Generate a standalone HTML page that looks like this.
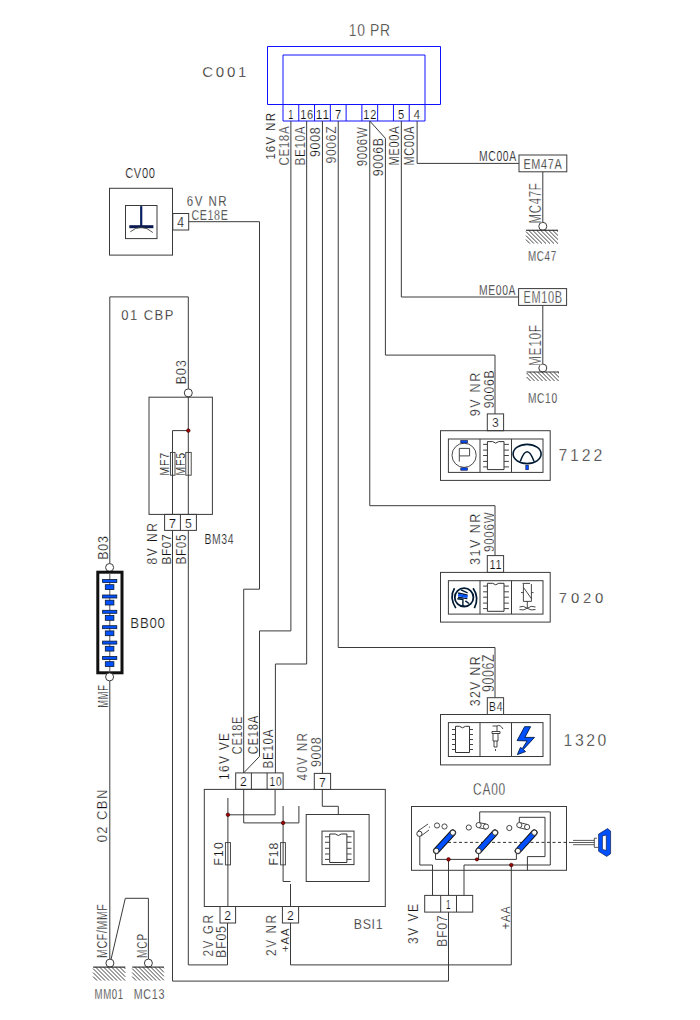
<!DOCTYPE html>
<html><head><meta charset="utf-8"><style>
html,body{margin:0;padding:0;background:#fff;width:700px;height:1020px;overflow:hidden}
svg{display:block}
text{font-family:"Liberation Sans",sans-serif;stroke:#fff}
</style></head><body>
<svg width="700" height="1020" viewBox="0 0 700 1020">
<rect width="700" height="1020" fill="#fff"/>
<path d="M267.5,46.5 L440.5,46.5 L440.5,104.5 L267.5,104.5 L267.5,46.5" stroke="#1010ff" stroke-width="1" fill="none" />
<path d="M283,121 L283,55 L425,55 L425,121" stroke="#1010ff" stroke-width="1" fill="none" />
<path d="M283,121 L425,121" stroke="#1010ff" stroke-width="1" fill="none" />
<path d="M298.77777777777777,104.5 L298.77777777777777,121" stroke="#1010ff" stroke-width="1" fill="none" />
<path d="M314.55555555555554,104.5 L314.55555555555554,121" stroke="#1010ff" stroke-width="1" fill="none" />
<path d="M330.3333333333333,104.5 L330.3333333333333,121" stroke="#1010ff" stroke-width="1" fill="none" />
<path d="M346.1111111111111,104.5 L346.1111111111111,121" stroke="#1010ff" stroke-width="1" fill="none" />
<path d="M361.8888888888889,104.5 L361.8888888888889,121" stroke="#1010ff" stroke-width="1" fill="none" />
<path d="M377.6666666666667,104.5 L377.6666666666667,121" stroke="#1010ff" stroke-width="1" fill="none" />
<path d="M393.44444444444446,104.5 L393.44444444444446,121" stroke="#1010ff" stroke-width="1" fill="none" />
<path d="M409.22222222222223,104.5 L409.22222222222223,121" stroke="#1010ff" stroke-width="1" fill="none" />
<text id="t0" transform="translate(288.6388888888889,118.6) scale(0.695,1)" x="-0.66" y="0" font-size="13.19" textLength="7.79" lengthAdjust="spacing" fill="#111" stroke-width="0.15">1</text>
<text id="t1" transform="translate(300.6666666666667,118.6) scale(0.836,1)" x="-0.66" y="0" font-size="13.19" textLength="15.68" lengthAdjust="spacing" fill="#111" stroke-width="0.15">16</text>
<text id="t2" transform="translate(316.44444444444446,118.6) scale(0.902,1)" x="-0.66" y="0" font-size="13.19" textLength="14.63" lengthAdjust="spacing" fill="#111" stroke-width="0.15">11</text>
<text id="t3" transform="translate(335.47222222222223,118.6) scale(0.850,1)" x="-0.66" y="0" font-size="13.19" textLength="7.79" lengthAdjust="spacing" fill="#111" stroke-width="0.15">7</text>
<text id="t4" transform="translate(363.77777777777777,118.6) scale(0.836,1)" x="-0.66" y="0" font-size="13.19" textLength="15.68" lengthAdjust="spacing" fill="#111" stroke-width="0.15">12</text>
<text id="t5" transform="translate(398.58333333333337,118.6) scale(0.850,1)" x="-0.66" y="0" font-size="13.19" textLength="7.79" lengthAdjust="spacing" fill="#111" stroke-width="0.15">5</text>
<text id="t6" transform="translate(414.3611111111111,118.6) scale(0.850,1)" x="-0.66" y="0" font-size="13.19" textLength="7.79" lengthAdjust="spacing" fill="#111" stroke-width="0.15">4</text>
<text id="t7" transform="translate(349.4,36.1) scale(0.859,1)" x="-0.81" y="0" font-size="16.17" textLength="48.20" lengthAdjust="spacing" fill="#111" stroke-width="0.42">10 PR</text>
<text id="t8" transform="translate(203,77) scale(1.000,1)" x="-0.75" y="0" font-size="15.04" textLength="44.20" lengthAdjust="spacing" fill="#111" stroke-width="0.32">C001</text>
<text id="t9" transform="translate(275,159.3) rotate(-90) scale(0.876,1)" x="-0.66" y="0" font-size="13.19" textLength="53.51" lengthAdjust="spacing" fill="#111" stroke-width="0.15">16V  NR</text>
<text id="t10" transform="translate(289.3,165) rotate(-90) scale(0.759,1)" x="-0.76" y="0" font-size="15.18" textLength="51.60" lengthAdjust="spacing" fill="#111" stroke-width="0.33">CE18A</text>
<text id="t11" transform="translate(305,165) rotate(-90) scale(0.773,1)" x="-0.76" y="0" font-size="15.18" textLength="50.70" lengthAdjust="spacing" fill="#111" stroke-width="0.33">BE10A</text>
<text id="t12" transform="translate(320,156.4) rotate(-90) scale(0.879,1)" x="-0.71" y="0" font-size="14.18" textLength="33.82" lengthAdjust="spacing" fill="#111" stroke-width="0.24">9008</text>
<text id="t13" transform="translate(336.4,162.9) rotate(-90) scale(0.804,1)" x="-0.76" y="0" font-size="15.18" textLength="46.16" lengthAdjust="spacing" fill="#111" stroke-width="0.33">9006Z</text>
<text id="t14" transform="translate(367,165.7) rotate(-90) scale(0.808,1)" x="-0.71" y="0" font-size="14.18" textLength="48.22" lengthAdjust="spacing" fill="#111" stroke-width="0.24">9006W</text>
<text id="t15" transform="translate(383,175.7) rotate(-90) scale(0.871,1)" x="-0.71" y="0" font-size="14.18" textLength="44.00" lengthAdjust="spacing" fill="#111" stroke-width="0.24">9006B</text>
<text id="t16" transform="translate(398.6,165) rotate(-90) scale(0.784,1)" x="-0.71" y="0" font-size="14.18" textLength="49.91" lengthAdjust="spacing" fill="#111" stroke-width="0.24">ME00A</text>
<text id="t17" transform="translate(414.3,165) rotate(-90) scale(0.770,1)" x="-0.71" y="0" font-size="14.18" textLength="50.75" lengthAdjust="spacing" fill="#111" stroke-width="0.24">MC00A</text>
<path d="M188.7,221.7 L259.5,221.7 L259.5,589.2 L243.7,589.2 L243.7,772.9" stroke="#3a3a3a" stroke-width="1" fill="none" />
<path d="M290.8888888888889,121 L290.8888888888889,630.9 L259.5,630.9 L259.5,756.4 L243.7,772.9" stroke="#3a3a3a" stroke-width="1" fill="none" />
<path d="M306.6666666666667,121 L306.6666666666667,664 L275.4,664 L275.4,772.9" stroke="#3a3a3a" stroke-width="1" fill="none" />
<path d="M322.44444444444446,121 L322.44444444444446,773.4" stroke="#3a3a3a" stroke-width="1" fill="none" />
<path d="M338.22222222222223,121 L338.22222222222223,647.5 L495,647.5 L495,697.7" stroke="#3a3a3a" stroke-width="1" fill="none" />
<path d="M369.77777777777777,121 L369.77777777777777,505.7 L495,505.7 L495,555.6" stroke="#3a3a3a" stroke-width="1" fill="none" />
<path d="M369.77777777777777,121 L385.4,138.3 L385.4,355.1 L495,355.1 L495,413.9" stroke="#3a3a3a" stroke-width="1" fill="none" />
<path d="M401.33333333333337,121 L401.33333333333337,297 L518.6,297" stroke="#3a3a3a" stroke-width="1" fill="none" />
<path d="M417.1111111111111,121 L417.1111111111111,163.4 L519,163.4" stroke="#3a3a3a" stroke-width="1" fill="none" />
<rect x="519" y="155" width="47.8" height="16.8" stroke="#3a3a3a" stroke-width="1" fill="none"/>
<text id="t18" transform="translate(524,169) scale(0.752,1)" x="-0.72" y="0" font-size="14.47" textLength="50.91" lengthAdjust="spacing" fill="#111" stroke-width="0.27">EM47A</text>
<text id="t19" transform="translate(479.5,161.2) scale(0.749,1)" x="-0.70" y="0" font-size="13.90" textLength="49.74" lengthAdjust="spacing" fill="#111" stroke-width="0.21">MC00A</text>
<path d="M542.8,171.8 L542.8,222.2" stroke="#3a3a3a" stroke-width="1" fill="none" />
<circle cx="542.8" cy="226.3" r="4" stroke="#3a3a3a" stroke-width="1" fill="#fff"/>
<path d="M526,230.3 L558,230.3" stroke="#3a3a3a" stroke-width="1.2" fill="none" />
<path d="M526.0,239.6 L530.0,243.6 M526.0,235.6 L534.0,243.6 M526.0,231.6 L538.0,243.6 M528.7,230.3 L542.0,243.6 M532.7,230.3 L546.0,243.6 M536.7,230.3 L550.0,243.6 M540.7,230.3 L554.0,243.6 M544.7,230.3 L558.0,243.6 M548.7,230.3 L558.0,239.6 M552.7,230.3 L558.0,235.6 M556.7,230.3 L558.0,231.6" stroke="#222" stroke-width="0.85" fill="none"/>
<text id="t20" transform="translate(540.8,222.9) rotate(-90) scale(0.718,1)" x="-0.79" y="0" font-size="15.89" textLength="55.88" lengthAdjust="spacing" fill="#111" stroke-width="0.40">MC47F</text>
<text id="t21" transform="translate(528.4,260.6) scale(0.658,1)" x="-0.75" y="0" font-size="15.04" textLength="43.01" lengthAdjust="spacing" fill="#111" stroke-width="0.32">MC47</text>
<rect x="518.6" y="288.6" width="48.0" height="16.8" stroke="#3a3a3a" stroke-width="1" fill="none"/>
<text id="t22" transform="translate(524,303) scale(0.697,1)" x="-0.79" y="0" font-size="15.74" textLength="55.40" lengthAdjust="spacing" fill="#111" stroke-width="0.38">EM10B</text>
<text id="t23" transform="translate(479.6,294.6) scale(0.716,1)" x="-0.72" y="0" font-size="14.47" textLength="50.91" lengthAdjust="spacing" fill="#111" stroke-width="0.27">ME00A</text>
<path d="M542.8,305.4 L542.8,364" stroke="#3a3a3a" stroke-width="1" fill="none" />
<circle cx="542.8" cy="368" r="4" stroke="#3a3a3a" stroke-width="1" fill="#fff"/>
<path d="M526.6,372 L559,372" stroke="#3a3a3a" stroke-width="1.2" fill="none" />
<path d="M526.6,377.0 L530.6,381.0 M526.6,373.0 L534.6,381.0 M529.6,372.0 L538.6,381.0 M533.6,372.0 L542.6,381.0 M537.6,372.0 L546.6,381.0 M541.6,372.0 L550.6,381.0 M545.6,372.0 L554.6,381.0 M549.6,372.0 L558.6,381.0 M553.6,372.0 L559.0,377.4 M557.6,372.0 L559.0,373.4" stroke="#222" stroke-width="0.85" fill="none"/>
<text id="t24" transform="translate(540.5,365.4) rotate(-90) scale(0.735,1)" x="-0.81" y="0" font-size="16.17" textLength="55.92" lengthAdjust="spacing" fill="#111" stroke-width="0.42">ME10F</text>
<text id="t25" transform="translate(528.4,402.5) scale(0.686,1)" x="-0.74" y="0" font-size="14.89" textLength="42.61" lengthAdjust="spacing" fill="#111" stroke-width="0.31">MC10</text>
<rect x="440.5" y="430.7" width="109.7" height="49.7" stroke="#3a3a3a" stroke-width="1" fill="none"/>
<rect x="448.4" y="439" width="94.6" height="33.4" stroke="#3a3a3a" stroke-width="1" fill="none"/>
<path d="M480,439 L480,472.4" stroke="#3a3a3a" stroke-width="1" fill="none" />
<path d="M511.5,439 L511.5,472.4" stroke="#3a3a3a" stroke-width="1" fill="none" />
<rect x="487.3" y="413.9" width="16.3" height="16.8" stroke="#3a3a3a" stroke-width="1" fill="none"/>
<text id="t26" transform="translate(492.5,427) scale(0.908,1)" x="-0.67" y="0" font-size="13.48" textLength="7.96" lengthAdjust="spacing" fill="#111" stroke-width="0.18">3</text>
<text id="t27" transform="translate(559.2,461.2) scale(1.000,1)" x="-0.79" y="0" font-size="15.89" textLength="43.99" lengthAdjust="spacing" fill="#111" stroke-width="0.40">7122</text>
<text id="t28" transform="translate(480,415.7) rotate(-90) scale(0.862,1)" x="-0.73" y="0" font-size="14.61" textLength="50.53" lengthAdjust="spacing" fill="#111" stroke-width="0.28">9V  NR</text>
<text id="t29" transform="translate(493.7,407.7) rotate(-90) scale(0.837,1)" x="-0.73" y="0" font-size="14.61" textLength="45.32" lengthAdjust="spacing" fill="#111" stroke-width="0.28">9006B</text>
<rect x="440.5" y="572.4" width="109.7" height="49.7" stroke="#3a3a3a" stroke-width="1" fill="none"/>
<rect x="448.4" y="580.7" width="94.6" height="33.4" stroke="#3a3a3a" stroke-width="1" fill="none"/>
<path d="M480,580.7 L480,614.0999999999999" stroke="#3a3a3a" stroke-width="1" fill="none" />
<path d="M511.5,580.7 L511.5,614.0999999999999" stroke="#3a3a3a" stroke-width="1" fill="none" />
<rect x="487.3" y="555.5999999999999" width="16.3" height="16.8" stroke="#3a3a3a" stroke-width="1" fill="none"/>
<text id="t30" transform="translate(490,568.7) scale(0.809,1)" x="-0.67" y="0" font-size="13.48" textLength="14.94" lengthAdjust="spacing" fill="#111" stroke-width="0.18">11</text>
<text id="t31" transform="translate(559.6,603.4) scale(1.000,1)" x="-0.74" y="0" font-size="14.89" textLength="44.39" lengthAdjust="spacing" fill="#111" stroke-width="0.31">7020</text>
<text id="t32" transform="translate(480,564.3) rotate(-90) scale(0.891,1)" x="-0.71" y="0" font-size="14.18" textLength="57.54" lengthAdjust="spacing" fill="#111" stroke-width="0.24">31V  NR</text>
<text id="t33" transform="translate(493.7,551.4) rotate(-90) scale(0.762,1)" x="-0.77" y="0" font-size="15.32" textLength="52.08" lengthAdjust="spacing" fill="#111" stroke-width="0.34">9006W</text>
<rect x="440.5" y="714.5" width="109.7" height="50.4" stroke="#3a3a3a" stroke-width="1" fill="none"/>
<rect x="448.4" y="722.6" width="94.6" height="33.9" stroke="#3a3a3a" stroke-width="1" fill="none"/>
<path d="M480,722.6 L480,756.5" stroke="#3a3a3a" stroke-width="1" fill="none" />
<path d="M511.5,722.6 L511.5,756.5" stroke="#3a3a3a" stroke-width="1" fill="none" />
<rect x="487.3" y="697.7" width="16.3" height="16.8" stroke="#3a3a3a" stroke-width="1" fill="none"/>
<text id="t34" transform="translate(489.5,711) scale(0.768,1)" x="-0.67" y="0" font-size="13.48" textLength="17.62" lengthAdjust="spacing" fill="#111" stroke-width="0.18">B4</text>
<text id="t35" transform="translate(564.4,745.6) scale(1.000,1)" x="-0.79" y="0" font-size="15.74" textLength="42.67" lengthAdjust="spacing" fill="#111" stroke-width="0.38">1320</text>
<text id="t36" transform="translate(480,705.7) rotate(-90) scale(0.868,1)" x="-0.71" y="0" font-size="14.18" textLength="57.54" lengthAdjust="spacing" fill="#111" stroke-width="0.24">32V  NR</text>
<text id="t37" transform="translate(494,691.4) rotate(-90) scale(0.795,1)" x="-0.78" y="0" font-size="15.60" textLength="47.46" lengthAdjust="spacing" fill="#111" stroke-width="0.37">9006Z</text>
<circle cx="464.1" cy="455.3" r="12.1" stroke="#333" stroke-width="0.9" fill="none"/>
<rect x="460.8" y="440.6" width="6.6" height="2.3" fill="#0050ff" stroke="#003" stroke-width="0.6"/>
<rect x="460.8" y="467.9" width="6.6" height="2.3" fill="#0050ff" stroke="#003" stroke-width="0.6"/>
<path d="M459.3,461.6 V448.4 H469.6 V455.9 H459.3" stroke="#333" stroke-width="0.9" fill="none"/>
<path d="M487.4,441.6 H492.7 Q495.7,444.6 498.7,441.6 H504 V469.6 H487.4 Z" stroke="#333" stroke-width="1" fill="#fff"/>
<path d="M483.1,444.4 H487.4 M504,444.4 H508.9 M483.1,450.1 H487.4 M504,450.1 H508.9 M483.1,455.5 H487.4 M504,455.5 H508.9 M483.1,461.4 H487.4 M504,461.4 H508.9 M483.1,466.9 H487.4 M504,466.9 H508.9" stroke="#444" stroke-width="1" fill="none"/>
<ellipse cx="527.1" cy="454" rx="14" ry="9.6" stroke="#001a33" stroke-width="1.6" fill="none"/>
<path d="M520.3,461.6 Q527.1,442 534,461.6" stroke="#001a33" stroke-width="1.5" fill="none"/>
<rect x="525.8" y="465.2" width="2.7" height="4.6" fill="#0050ff" stroke="#003" stroke-width="0.5"/>
<circle cx="464.1" cy="597.4" r="9.3" stroke="#001a33" stroke-width="1.8" fill="none"/>
<path d="M454.5,588.2 Q449,597.4 455.8,608.1 M473.1,588.2 Q479.5,597.4 474.4,608.1" stroke="#001a33" stroke-width="1.7" fill="none"/>
<path d="M460.9,589.9 L467.6,592.9 M458.1,593 L467.6,595.2 M458.1,597.2 L467.3,598.6 M457.3,598.7 L463.3,599.6 M462.9,599.1 L462.9,605.6 M465.4,600.9 L468.9,603.5 M461,606 L465,606.3" stroke="#001a33" stroke-width="1.4" fill="none"/>
<path d="M458.1,595 L467.6,596.7" stroke="#0050ff" stroke-width="2.4" fill="none"/>
<path d="M487.4,583.3 H492.7 Q495.7,586.3 498.7,583.3 H504 V611.3 H487.4 Z" stroke="#333" stroke-width="1" fill="#fff"/>
<path d="M483.1,586.0999999999999 H487.4 M504,586.0999999999999 H508.9 M483.1,591.8 H487.4 M504,591.8 H508.9 M483.1,597.2 H487.4 M504,597.2 H508.9 M483.1,603.0999999999999 H487.4 M504,603.0999999999999 H508.9 M483.1,608.5999999999999 H487.4 M504,608.5999999999999 H508.9" stroke="#444" stroke-width="1" fill="none"/>
<path d="M522.5,583.4 H530 M523.4,584 V601.4 H531.4 V584 M523.7,587.7 L531.4,598.6 M521,592.6 H523.4 M531.4,592.6 H533.5 M527.3,601.4 V608.3" stroke="#333" stroke-width="0.9" fill="none"/>
<path d="M519.5,607 Q523,605 527.3,608.3 Q531,605 535.5,607 M519.5,609.5 Q523,611 527.3,608.3 Q531,611 535.5,609.5" stroke="#333" stroke-width="0.9" fill="none"/>
<path d="M455.5,726.3 H459.5 Q462.5,729.3 465.5,726.3 H469.5 V752.5 H455.5 Z" stroke="#333" stroke-width="1" fill="#fff"/>
<path d="M452,729.5 H455.5 M469.5,729.5 H473 M452,734.5 H455.5 M469.5,734.5 H473 M452,739.5 H455.5 M469.5,739.5 H473 M452,744.5 H455.5 M469.5,744.5 H473 M452,749.5 H455.5 M469.5,749.5 H473" stroke="#444" stroke-width="1" fill="none"/>
<path d="M492.5,726 H497 Q500,724 503,729 M497,726 V731 M492,731.5 H500 V733.5 H492 Z M493,733.5 V741 H498 V733.5 M494,741 V747 H497 V741 M495.5,749 V751" stroke="#333" stroke-width="0.9" fill="none"/>
<path d="M524.6,726.7 L530.6,726.7 L524.9,737.4 L534.5,737.4 L523.4,749.4 L525.5,751.6 L517.4,754.6 L520.4,747.5 L522.3,748.6 L527.2,740.9 L517.1,740.6 Z" fill="#0050ff" stroke="#001a40" stroke-width="0.9" stroke-linejoin="round"/>
<rect x="109.5" y="188.3" width="63.0" height="66.8" stroke="#3a3a3a" stroke-width="1" fill="none"/>
<rect x="125.5" y="205.5" width="31.5" height="33.1" stroke="#3a3a3a" stroke-width="1" fill="none"/>
<rect x="172.8" y="213.5" width="15.9" height="16.5" stroke="#3a3a3a" stroke-width="1" fill="none"/>
<text id="t38" transform="translate(177.8,226.5) scale(0.889,1)" x="-0.69" y="0" font-size="13.76" textLength="8.12" lengthAdjust="spacing" fill="#111" stroke-width="0.20">4</text>
<text id="t39" transform="translate(125.7,177.5) scale(0.802,1)" x="-0.70" y="0" font-size="13.90" textLength="37.29" lengthAdjust="spacing" fill="#111" stroke-width="0.21">CV00</text>
<text id="t40" transform="translate(187.4,206.3) scale(0.787,1)" x="-0.73" y="0" font-size="14.61" textLength="50.53" lengthAdjust="spacing" fill="#111" stroke-width="0.28">6V  NR</text>
<text id="t41" transform="translate(192,219.7) scale(0.698,1)" x="-0.77" y="0" font-size="15.32" textLength="52.08" lengthAdjust="spacing" fill="#111" stroke-width="0.34">CE18E</text>
<path d="M141.2,206.1 V227" stroke="#0a2060" stroke-width="2.2"/>
<path d="M129.3,226.7 H153.4" stroke="#0a1a50" stroke-width="3"/>
<path d="M130.3,231.8 Q141.2,222.5 152.8,232.5" stroke="#444" stroke-width="0.9" fill="none"/>
<path d="M109.8,563.5 L109.8,296.9 L188.3,296.9 L188.3,388.9" stroke="#3a3a3a" stroke-width="1" fill="none" />
<circle cx="188.3" cy="392.9" r="4" stroke="#3a3a3a" stroke-width="1" fill="#fff"/>
<text id="t42" transform="translate(122,319.6) scale(0.892,1)" x="-0.73" y="0" font-size="14.61" textLength="58.40" lengthAdjust="spacing" fill="#111" stroke-width="0.28">01  CBP</text>
<text id="t43" transform="translate(186.4,383.9) rotate(-90) scale(0.879,1)" x="-0.73" y="0" font-size="14.61" textLength="27.84" lengthAdjust="spacing" fill="#111" stroke-width="0.28">B03</text>
<rect x="149" y="397.2" width="63.4" height="117.2" stroke="#3a3a3a" stroke-width="1" fill="none"/>
<path d="M188.3,396.9 L188.3,514.4" stroke="#3a3a3a" stroke-width="1" fill="none" />
<path d="M188.3,430.6 L172.5,430.6 L172.5,514.4" stroke="#3a3a3a" stroke-width="1" fill="none" />
<circle cx="188.3" cy="430.6" r="1.8" fill="#a00000" stroke="#300" stroke-width="0.6"/>
<rect x="170.4" y="452.4" width="4.6" height="22.8" stroke="#3a3a3a" stroke-width="0.9" fill="none"/>
<rect x="185.8" y="452.4" width="5.4" height="22.8" stroke="#3a3a3a" stroke-width="0.9" fill="none"/>
<text id="t44" transform="translate(168.8,475.2) rotate(-90) scale(0.865,1)" x="-0.62" y="0" font-size="12.34" textLength="26.45" lengthAdjust="spacing" fill="#111" stroke-width="0.15">MF7</text>
<text id="t45" transform="translate(184.6,475.2) rotate(-90) scale(0.836,1)" x="-0.64" y="0" font-size="12.77" textLength="27.36" lengthAdjust="spacing" fill="#111" stroke-width="0.15">MF5</text>
<rect x="164.6" y="514.4" width="31.8" height="16.0" stroke="#3a3a3a" stroke-width="1" fill="none"/>
<path d="M180.4,514.4 L180.4,530.4" stroke="#3a3a3a" stroke-width="1" fill="none" />
<text id="t46" transform="translate(169.5,527.5) scale(0.983,1)" x="-0.67" y="0" font-size="13.48" textLength="7.96" lengthAdjust="spacing" fill="#111" stroke-width="0.18">7</text>
<text id="t47" transform="translate(185.5,527.5) scale(0.908,1)" x="-0.67" y="0" font-size="13.48" textLength="7.96" lengthAdjust="spacing" fill="#111" stroke-width="0.18">5</text>
<text id="t48" transform="translate(157,564) rotate(-90) scale(0.848,1)" x="-0.71" y="0" font-size="14.18" textLength="49.05" lengthAdjust="spacing" fill="#111" stroke-width="0.24">8V  NR</text>
<text id="t49" transform="translate(171,564) rotate(-90) scale(0.922,1)" x="-0.64" y="0" font-size="12.77" textLength="32.71" lengthAdjust="spacing" fill="#111" stroke-width="0.15">BF07</text>
<text id="t50" transform="translate(186,564) rotate(-90) scale(0.830,1)" x="-0.71" y="0" font-size="14.18" textLength="36.35" lengthAdjust="spacing" fill="#111" stroke-width="0.24">BF05</text>
<text id="t51" transform="translate(205,544.4) scale(0.731,1)" x="-0.71" y="0" font-size="14.18" textLength="39.74" lengthAdjust="spacing" fill="#111" stroke-width="0.24">BM34</text>
<path d="M172.5,530.4 L172.5,981.1 L448.5,981.1" stroke="#3a3a3a" stroke-width="1" fill="none" />
<path d="M188.3,530.4 L188.3,964.9 L227.5,964.9 L227.5,923" stroke="#3a3a3a" stroke-width="1" fill="none" />
<circle cx="109.6" cy="567.5" r="4" stroke="#3a3a3a" stroke-width="1" fill="#fff"/>
<rect x="97.8" y="572.2" width="24.2" height="100.6" stroke="#111" stroke-width="3" fill="#fff"/>
<path d="M109.8,574 L109.8,671" stroke="#555" stroke-width="1" fill="none" />
<rect x="102.6" y="579.5" width="14.2" height="3" fill="#0050ff" stroke="#0a1a30" stroke-width="0.8"/>
<rect x="105.3" y="584.7" width="8.6" height="4.8" fill="#0050ff" stroke="#0a1a30" stroke-width="0.8"/>
<rect x="102.6" y="595.0" width="14.2" height="3" fill="#0050ff" stroke="#0a1a30" stroke-width="0.8"/>
<rect x="105.3" y="600.2" width="8.6" height="4.8" fill="#0050ff" stroke="#0a1a30" stroke-width="0.8"/>
<rect x="102.6" y="610.3" width="14.2" height="3" fill="#0050ff" stroke="#0a1a30" stroke-width="0.8"/>
<rect x="105.3" y="615.5" width="8.6" height="4.8" fill="#0050ff" stroke="#0a1a30" stroke-width="0.8"/>
<rect x="102.6" y="625.7" width="14.2" height="3" fill="#0050ff" stroke="#0a1a30" stroke-width="0.8"/>
<rect x="105.3" y="630.9" width="8.6" height="4.8" fill="#0050ff" stroke="#0a1a30" stroke-width="0.8"/>
<rect x="102.6" y="641.1" width="14.2" height="3" fill="#0050ff" stroke="#0a1a30" stroke-width="0.8"/>
<rect x="105.3" y="646.3000000000001" width="8.6" height="4.8" fill="#0050ff" stroke="#0a1a30" stroke-width="0.8"/>
<rect x="102.6" y="656.5" width="14.2" height="3" fill="#0050ff" stroke="#0a1a30" stroke-width="0.8"/>
<rect x="105.3" y="661.7" width="8.6" height="4.8" fill="#0050ff" stroke="#0a1a30" stroke-width="0.8"/>
<circle cx="109.6" cy="676.9" r="4" stroke="#3a3a3a" stroke-width="1" fill="#fff"/>
<path d="M109.8,680.9 L109.8,959.1" stroke="#3a3a3a" stroke-width="1" fill="none" />
<text id="t52" transform="translate(107.5,559.2) rotate(-90) scale(0.887,1)" x="-0.70" y="0" font-size="14.04" textLength="26.76" lengthAdjust="spacing" fill="#111" stroke-width="0.23">B03</text>
<text id="t53" transform="translate(107.5,707.3) rotate(-90) scale(0.657,1)" x="-0.70" y="0" font-size="14.04" textLength="34.28" lengthAdjust="spacing" fill="#111" stroke-width="0.23">MMF</text>
<text id="t54" transform="translate(131,627.8) scale(0.949,1)" x="-0.70" y="0" font-size="13.90" textLength="36.46" lengthAdjust="spacing" fill="#111" stroke-width="0.21">BB00</text>
<text id="t55" transform="translate(107.3,841.7) rotate(-90) scale(0.889,1)" x="-0.73" y="0" font-size="14.61" textLength="59.26" lengthAdjust="spacing" fill="#111" stroke-width="0.28">02  CBN</text>
<text id="t56" transform="translate(107.3,957.4) rotate(-90) scale(0.726,1)" x="-0.73" y="0" font-size="14.61" textLength="74.05" lengthAdjust="spacing" fill="#111" stroke-width="0.28">MCF/MMF</text>
<text id="t57" transform="translate(146.6,957.4) rotate(-90) scale(0.693,1)" x="-0.73" y="0" font-size="14.61" textLength="34.80" lengthAdjust="spacing" fill="#111" stroke-width="0.28">MCP</text>
<path d="M111,959.5 L125.3,898.3 L148.4,898.3 L148.4,959.1" stroke="#3a3a3a" stroke-width="1" fill="none" />
<circle cx="109.9" cy="963.1" r="4" stroke="#3a3a3a" stroke-width="1" fill="#fff"/>
<path d="M93.1,967.1 L125.3,967.1" stroke="#3a3a3a" stroke-width="1.2" fill="none" />
<path d="M93.1,976.6 L97.1,980.6 M93.1,972.6 L101.1,980.6 M93.1,968.6 L105.1,980.6 M95.6,967.1 L109.1,980.6 M99.6,967.1 L113.1,980.6 M103.6,967.1 L117.1,980.6 M107.6,967.1 L121.1,980.6 M111.6,967.1 L125.1,980.6 M115.6,967.1 L125.3,976.8 M119.6,967.1 L125.3,972.8 M123.6,967.1 L125.3,968.8" stroke="#222" stroke-width="0.85" fill="none"/>
<circle cx="148.4" cy="963.1" r="4" stroke="#3a3a3a" stroke-width="1" fill="#fff"/>
<path d="M132.2,967.1 L163.9,967.1" stroke="#3a3a3a" stroke-width="1.2" fill="none" />
<path d="M132.2,976.6 L136.2,980.6 M132.2,972.6 L140.2,980.6 M132.2,968.6 L144.2,980.6 M134.7,967.1 L148.2,980.6 M138.7,967.1 L152.2,980.6 M142.7,967.1 L156.2,980.6 M146.7,967.1 L160.2,980.6 M150.7,967.1 L163.9,980.3 M154.7,967.1 L163.9,976.3 M158.7,967.1 L163.9,972.3 M162.7,967.1 L163.9,968.3" stroke="#222" stroke-width="0.85" fill="none"/>
<text id="t58" transform="translate(95,998.6) scale(0.628,1)" x="-0.77" y="0" font-size="15.32" textLength="45.65" lengthAdjust="spacing" fill="#111" stroke-width="0.34">MM01</text>
<text id="t59" transform="translate(134.3,998.6) scale(0.700,1)" x="-0.77" y="0" font-size="15.32" textLength="43.83" lengthAdjust="spacing" fill="#111" stroke-width="0.34">MC13</text>
<rect x="204.3" y="789.4" width="181.0" height="117.1" stroke="#3a3a3a" stroke-width="1" fill="none"/>
<rect x="235.7" y="772.9" width="47.4" height="16.4" stroke="#3a3a3a" stroke-width="1" fill="none"/>
<path d="M251.4,772.9 L251.4,789.3" stroke="#3a3a3a" stroke-width="1" fill="none" />
<path d="M267.1,772.9 L267.1,789.3" stroke="#3a3a3a" stroke-width="1" fill="none" />
<text id="t60" transform="translate(240.5,786) scale(0.908,1)" x="-0.67" y="0" font-size="13.48" textLength="7.96" lengthAdjust="spacing" fill="#111" stroke-width="0.18">2</text>
<text id="t61" transform="translate(270,786) scale(0.750,1)" x="-0.67" y="0" font-size="13.48" textLength="16.02" lengthAdjust="spacing" fill="#111" stroke-width="0.18">10</text>
<rect x="314.3" y="773.4" width="16.3" height="16.1" stroke="#3a3a3a" stroke-width="1" fill="none"/>
<text id="t62" transform="translate(319.5,786.5) scale(0.908,1)" x="-0.67" y="0" font-size="13.48" textLength="7.96" lengthAdjust="spacing" fill="#111" stroke-width="0.18">7</text>
<text id="t63" transform="translate(228.6,779.3) rotate(-90) scale(0.840,1)" x="-0.71" y="0" font-size="14.18" textLength="55.85" lengthAdjust="spacing" fill="#111" stroke-width="0.24">16V  VE</text>
<text id="t64" transform="translate(242.1,753.6) rotate(-90) scale(0.750,1)" x="-0.74" y="0" font-size="14.75" textLength="50.15" lengthAdjust="spacing" fill="#111" stroke-width="0.29">CE18E</text>
<text id="t65" transform="translate(257.9,753.6) rotate(-90) scale(0.795,1)" x="-0.71" y="0" font-size="14.18" textLength="48.22" lengthAdjust="spacing" fill="#111" stroke-width="0.24">CE18A</text>
<text id="t66" transform="translate(272.9,767.9) rotate(-90) scale(0.825,1)" x="-0.71" y="0" font-size="14.18" textLength="47.38" lengthAdjust="spacing" fill="#111" stroke-width="0.24">BE10A</text>
<text id="t67" transform="translate(307,780) rotate(-90) scale(0.789,1)" x="-0.74" y="0" font-size="14.89" textLength="60.41" lengthAdjust="spacing" fill="#111" stroke-width="0.31">40V  NR</text>
<text id="t68" transform="translate(320.5,766.5) rotate(-90) scale(0.838,1)" x="-0.74" y="0" font-size="14.89" textLength="35.52" lengthAdjust="spacing" fill="#111" stroke-width="0.31">9008</text>
<path d="M227.9,798 L227.9,906.5" stroke="#3a3a3a" stroke-width="1" fill="none" />
<path d="M227.9,814.8 L275.1,814.8 L275.1,789.3" stroke="#3a3a3a" stroke-width="1" fill="none" />
<circle cx="227.9" cy="814.8" r="1.8" fill="#a00000" stroke="#300" stroke-width="0.6"/>
<path d="M243.7,789.3 L243.7,822.9 L298.9,822.9 L298.9,806" stroke="#3a3a3a" stroke-width="1" fill="none" />
<path d="M283.1,806 L283.1,881.5 L290.5,881.5" stroke="#3a3a3a" stroke-width="1" fill="none" />
<path d="M290.5,884 L290.5,906.5" stroke="#3a3a3a" stroke-width="1" fill="none" />
<circle cx="283.1" cy="822.9" r="1.8" fill="#a00000" stroke="#300" stroke-width="0.6"/>
<rect x="225.4" y="842.6" width="5.1" height="22.3" stroke="#3a3a3a" stroke-width="0.9" fill="none"/>
<rect x="280.6" y="842.6" width="4.8" height="22.3" stroke="#3a3a3a" stroke-width="0.9" fill="none"/>
<text id="t69" transform="translate(223.1,864.9) rotate(-90) scale(1.000,1)" x="-0.60" y="0" font-size="12.06" textLength="23.11" lengthAdjust="spacing" fill="#111" stroke-width="0.15">F10</text>
<text id="t70" transform="translate(278,864.9) rotate(-90) scale(1.000,1)" x="-0.61" y="0" font-size="12.20" textLength="22.72" lengthAdjust="spacing" fill="#111" stroke-width="0.15">F18</text>
<path d="M322.3,789.5 L322.3,806.3 L338.3,806.3 L338.3,814.5" stroke="#3a3a3a" stroke-width="1" fill="none" />
<rect x="306.2" y="814.5" width="62.9" height="67.0" stroke="#3a3a3a" stroke-width="1" fill="none"/>
<rect x="322" y="831.1" width="32" height="33.5" stroke="#3a3a3a" stroke-width="1" fill="none"/>
<path d="M329.7,834 H335.29999999999995 Q338.29999999999995,837 341.29999999999995,834 H346.9 V862.5 H329.7 Z" stroke="#333" stroke-width="1" fill="#fff"/>
<path d="M325,836.8 H329.7 M346.9,836.8 H351.5 M325,842.3 H329.7 M346.9,842.3 H351.5 M325,848.3 H329.7 M346.9,848.3 H351.5 M325,854 H329.7 M346.9,854 H351.5 M325,859.4 H329.7 M346.9,859.4 H351.5" stroke="#444" stroke-width="1" fill="none"/>
<rect x="220" y="906.5" width="15.6" height="16.5" stroke="#3a3a3a" stroke-width="1" fill="none"/>
<text id="t71" transform="translate(224.8,919.5) scale(0.908,1)" x="-0.67" y="0" font-size="13.48" textLength="7.96" lengthAdjust="spacing" fill="#111" stroke-width="0.18">2</text>
<rect x="282.4" y="906.5" width="16.2" height="16.5" stroke="#3a3a3a" stroke-width="1" fill="none"/>
<text id="t72" transform="translate(287.5,919.5) scale(0.908,1)" x="-0.67" y="0" font-size="13.48" textLength="7.96" lengthAdjust="spacing" fill="#111" stroke-width="0.18">2</text>
<path d="M290.5,923 L290.5,964.9 L511.3,964.9" stroke="#3a3a3a" stroke-width="1" fill="none" />
<text id="t73" transform="translate(354.4,929) scale(0.833,1)" x="-0.74" y="0" font-size="14.89" textLength="34.61" lengthAdjust="spacing" fill="#111" stroke-width="0.31">BSI1</text>
<text id="t74" transform="translate(275.5,955.4) rotate(-90) scale(0.798,1)" x="-0.74" y="0" font-size="14.89" textLength="51.51" lengthAdjust="spacing" fill="#111" stroke-width="0.31">2V  NR</text>
<text id="t75" transform="translate(289,951.5) rotate(-90) scale(1.000,1)" x="-0.57" y="0" font-size="11.35" textLength="23.63" lengthAdjust="spacing" fill="#111" stroke-width="0.15">+AA</text>
<text id="t76" transform="translate(212.5,956) rotate(-90) scale(0.796,1)" x="-0.74" y="0" font-size="14.89" textLength="52.40" lengthAdjust="spacing" fill="#111" stroke-width="0.31">2V  GR</text>
<text id="t77" transform="translate(225.6,957.4) rotate(-90) scale(0.856,1)" x="-0.73" y="0" font-size="14.61" textLength="37.44" lengthAdjust="spacing" fill="#111" stroke-width="0.28">BF05</text>
<rect x="411.5" y="806.5" width="155.0" height="63.8" stroke="#3a3a3a" stroke-width="1" fill="none"/>
<text id="t78" transform="translate(473.7,795.4) scale(0.747,1)" x="-0.80" y="0" font-size="16.03" textLength="42.99" lengthAdjust="spacing" fill="#111" stroke-width="0.41">CA00</text>
<rect x="424.7" y="895.4" width="48.0" height="16.7" stroke="#3a3a3a" stroke-width="1" fill="none"/>
<path d="M440.7,895.4 L440.7,912.1" stroke="#3a3a3a" stroke-width="1" fill="none" />
<path d="M456.5,895.4 L456.5,912.1" stroke="#3a3a3a" stroke-width="1" fill="none" />
<text id="t79" transform="translate(446.5,908.5) scale(0.605,1)" x="-0.67" y="0" font-size="13.48" textLength="7.96" lengthAdjust="spacing" fill="#111" stroke-width="0.18">1</text>
<text id="t80" transform="translate(417.8,943.4) rotate(-90) scale(0.862,1)" x="-0.70" y="0" font-size="13.90" textLength="46.42" lengthAdjust="spacing" fill="#111" stroke-width="0.21">3V  VE</text>
<text id="t81" transform="translate(446.9,946.4) rotate(-90) scale(0.845,1)" x="-0.73" y="0" font-size="14.61" textLength="37.44" lengthAdjust="spacing" fill="#111" stroke-width="0.28">BF07</text>
<text id="t82" transform="translate(509.7,928.6) rotate(-90) scale(0.900,1)" x="-0.62" y="0" font-size="12.34" textLength="25.36" lengthAdjust="spacing" fill="#111" stroke-width="0.15">+AA</text>
<path d="M419.8,833.8 L419.8,865 L432.5,865 L432.5,895.4" stroke="#3a3a3a" stroke-width="1" fill="none" />
<path d="M435.5,852 L435.5,859.4 L516.4,859.4 L516.4,852" stroke="#3a3a3a" stroke-width="1" fill="none" />
<path d="M448.5,859.4 L448.5,895.4" stroke="#3a3a3a" stroke-width="1" fill="none" />
<path d="M448.5,912.1 L448.5,981.1" stroke="#3a3a3a" stroke-width="1" fill="none" />
<path d="M478.6,851 L478.6,859.4" stroke="#3a3a3a" stroke-width="1" fill="none" />
<path d="M464,895.4 L464,865 L550.3,865 L550.3,811.9 L479.7,811.9 L479.7,822.5" stroke="#3a3a3a" stroke-width="1" fill="none" />
<path d="M511.3,865 L511.3,964.9" stroke="#3a3a3a" stroke-width="1" fill="none" />
<path d="M519.3,822.5 L519.3,817.3 L545,817.3 L545,856.6 L527.4,856.6 L527.4,870.3" stroke="#3a3a3a" stroke-width="1" fill="none" />
<circle cx="448.5" cy="859.4" r="1.8" fill="#a00000" stroke="#300" stroke-width="0.6"/>
<circle cx="476.9" cy="859.4" r="1.6" fill="#a00000" stroke="#300" stroke-width="0.6"/>
<circle cx="511.3" cy="865" r="1.8" fill="#a00000" stroke="#300" stroke-width="0.6"/>
<path d="M448,842.4 H570" stroke="#333" stroke-width="1" stroke-dasharray="3,2.5" fill="none"/>
<path d="M436.3,850.8 L452.8,832.7" stroke="#111" stroke-width="6.5" stroke-linecap="round"/>
<path d="M436.3,850.8 L452.8,832.7" stroke="#0050ff" stroke-width="4.6" stroke-linecap="round"/>
<circle cx="436.3" cy="850.8" r="2.6" stroke="#222" stroke-width="0.9" fill="#fff"/>
<circle cx="452.8" cy="832.7" r="2.6" stroke="#222" stroke-width="0.9" fill="#fff"/>
<path d="M478.6,850.9 L495,832.7" stroke="#111" stroke-width="6.5" stroke-linecap="round"/>
<path d="M478.6,850.9 L495,832.7" stroke="#0050ff" stroke-width="4.6" stroke-linecap="round"/>
<circle cx="478.6" cy="850.9" r="2.6" stroke="#222" stroke-width="0.9" fill="#fff"/>
<circle cx="495" cy="832.7" r="2.6" stroke="#222" stroke-width="0.9" fill="#fff"/>
<path d="M517.9,850.9 L534.3,832.7" stroke="#111" stroke-width="6.5" stroke-linecap="round"/>
<path d="M517.9,850.9 L534.3,832.7" stroke="#0050ff" stroke-width="4.6" stroke-linecap="round"/>
<circle cx="517.9" cy="850.9" r="2.6" stroke="#222" stroke-width="0.9" fill="#fff"/>
<circle cx="534.3" cy="832.7" r="2.6" stroke="#222" stroke-width="0.9" fill="#fff"/>
<path d="M418,831 L428,824 M421,836 L429,830" stroke="#333" stroke-width="0.9" fill="none"/>
<circle cx="419.4" cy="833.8" r="2.6" stroke="#222" stroke-width="0.9" fill="#fff"/>
<circle cx="429.5" cy="827" r="0.6" fill="#333"/>
<circle cx="437" cy="825.5" r="2.6" stroke="#333" stroke-width="0.9" fill="none"/>
<circle cx="444.5" cy="826.5" r="2.6" stroke="#333" stroke-width="0.9" fill="none"/>
<circle cx="468.8" cy="827.5" r="2.6" stroke="#333" stroke-width="0.9" fill="none"/>
<circle cx="509.3" cy="828" r="2.6" stroke="#333" stroke-width="0.9" fill="none"/>
<path d="M478.6,822.5 L486,824.0 M478.6,827.7 L486,829.2" stroke="#333" stroke-width="0.9"/>
<circle cx="478.6" cy="825.1" r="2.6" stroke="#333" stroke-width="0.9" fill="#fff"/>
<circle cx="486" cy="826.6" r="2.6" stroke="#333" stroke-width="0.9" fill="#fff"/>
<path d="M519.3,822.5 L527.1,824.4 M519.3,827.7 L527.1,829.6" stroke="#333" stroke-width="0.9"/>
<circle cx="519.3" cy="825.1" r="2.6" stroke="#333" stroke-width="0.9" fill="#fff"/>
<circle cx="527.1" cy="827" r="2.6" stroke="#333" stroke-width="0.9" fill="#fff"/>
<path d="M570,842.5 H594.3 M573,840.4 H594.3 M573,844.7 H594.3 M594.3,838.2 V847.4 M594.3,838.2 H597 M594.3,847.4 H598" stroke="#333" stroke-width="0.8" fill="none"/>
<path d="M598.6,834.1 L607.6,828.6 L610.6,831.1 L610.6,853.8 L606.7,856.4 L598.6,851.3 Z M602.4,835.9 L606.3,835 L606.3,850.4 L602.4,849.4 Z" fill="#0050ff" fill-rule="evenodd" stroke="#102050" stroke-width="0.7"/>
</svg></body></html>
